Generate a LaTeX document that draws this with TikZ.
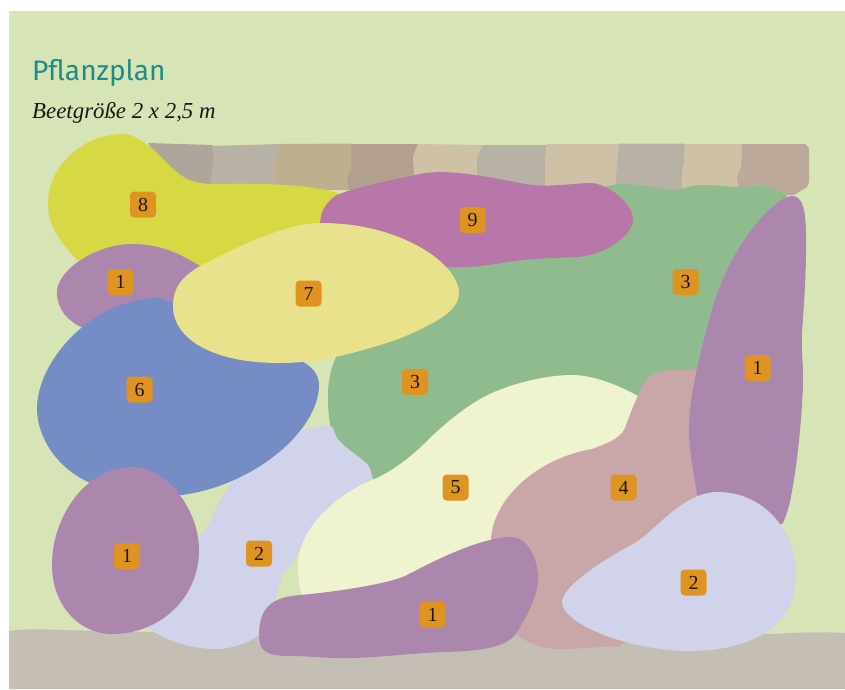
\documentclass[tikz,border=0pt]{standalone}
\usepackage{fontspec}
\setmainfont{Liberation Serif}
\newfontfamily\titlefont{Fira Sans}
\usetikzlibrary{positioning}
\definecolor{gardenbg}{HTML}{D6E4B6}
\definecolor{groundcol}{HTML}{C5BEB4}
\definecolor{stonea}{HTML}{AEA69A}
\definecolor{stoneb}{HTML}{B8B1A6}
\definecolor{stonec}{HTML}{BEB08E}
\definecolor{stoned}{HTML}{B4A08E}
\definecolor{stonee}{HTML}{CFC1A6}
\definecolor{stonef}{HTML}{BCA99A}
\definecolor{bedpurple}{HTML}{AB87AE}
\definecolor{bedlavender}{HTML}{D0D3EA}
\definecolor{bedgreen}{HTML}{90BB8F}
\definecolor{bedpink}{HTML}{C9A6A7}
\definecolor{bedcream}{HTML}{EFF3CF}
\definecolor{bedblue}{HTML}{768CC4}
\definecolor{bedpale}{HTML}{E8E28D}
\definecolor{bedyellow}{HTML}{D6D944}
\definecolor{bedmagenta}{HTML}{B777A8}
\definecolor{badgecol}{HTML}{DF9320}
\definecolor{titlecol}{HTML}{1F8C85}
\tikzset{
      plantbadge/.style={
        rounded corners=3.5pt,
        fill=badgecol,
        minimum width=0.78cm,
        minimum height=0.78cm,
        inner sep=0pt,
        font=\fontsize{17}{20}\selectfont,
        text=black!90
      }
    }

\begin{document}
\begin{tikzpicture}[x=0.03cm,y=-0.03cm]
    \useasboundingbox (0,0) rectangle (845,689);
    \fill[gardenbg] (9,11) rectangle (845,689);
    % wall
    \fill[stonea] (148,143) -- (213,145) -- (214,158) -- (211,185) -- (170,185) -- cycle;
    \fill[stoneb] (212,146) -- (280,144) -- (274,162) -- (275,185) -- (210,185) -- (214,158) -- cycle;
    \fill[stonec] (280,144) -- (352,143.5) -- (351,168) -- (347,177) -- (348,190) -- (275,190) -- (274,162) -- cycle;
    \fill[stoned] (351,144) -- (418,144) -- (413,157) -- (415,175) -- (415,190) -- (348,190) -- (347,177) -- (351,168) -- cycle;
    \fill[stonee] (418,144) -- (483,145) -- (477,157) -- (477,190) -- (415,190) -- (413,157) -- cycle;
    \fill[stoneb] (483,145) -- (547,145) -- (545,160) -- (545,187) -- (477,187) -- (477,157) -- cycle;
    \fill[stonee] (547,144) -- (619,144) -- (616,175) -- (615,187) -- (545,187) -- (545,160) -- cycle;
    \fill[stoneb] (619,143.5) -- (685,143.5) -- (684,163) -- (682,173) -- (682,190) -- (615,190) -- (616,175) -- cycle;
    \fill[stonee] (685,144) -- (742,144) -- (741,167) -- (737,177) -- (738,190) -- (682,190) -- (682,173) -- (684,163) -- cycle;
    \fill[stonef] (742,144) -- (805,144) -- (809,148) -- (809,182) -- (807,187) -- (794,195) -- (760,195) -- (738,190) -- (737,177) -- (741,167) -- cycle;
    % ground
    \fill[groundcol] (9,631) .. controls (20,629) and (40,629) .. (60,630) -- (150,632) -- (775,634) .. controls (800,632) and (825,632) .. (845,633) -- (845,689) -- (9,689) -- cycle;
    % beds
    \fill[bedyellow] (122,134) .. controls +(15,0) and +(-14,-15) .. (167,163) .. controls +(14,14) and +(-25,0) .. (215,184) .. controls +(40,-1) and +(-30,-9) .. (338,193) -- (340,220) -- (250,265) -- (133,270) -- (77,260) .. controls +(-16,-18) and +(0,25) .. (48,203) .. controls +(0,-38) and +(-37,0) .. (122,134) -- cycle;
    \fill[bedgreen] (340,350) .. controls +(-8,12) and +(0,-15) .. (328,395) .. controls +(0,15) and +(-3,-10) .. (332,432) -- (345,470) -- (410,490) -- (700,420) -- (780,240) -- (787,196) .. controls +(-8,-6) and +(12,0) .. (758,186) .. controls +(-8,0) and +(10,1) .. (735,187) .. controls +(-12,-1) and +(14,0) .. (702,185) .. controls +(-8,0) and +(10,-3) .. (680,189.5) .. controls +(-8,2) and +(10,2) .. (652,187) .. controls +(-12,-2) and +(14,0) .. (618,184) -- (590,190) -- (500,225) -- cycle;
    \fill[bedlavender] (280,440) .. controls +(15,-10) and +(-15,0) .. (330,426) .. controls +(4,0) and +(-3,-5) .. (337,438) .. controls +(8,10) and +(-12,-10) .. (365,462) .. controls +(6,5) and +(-1,-8) .. (373,482) -- (330,520) -- (300,548) .. controls +(-2,10) and +(5,-8) .. (283,575) .. controls +(-5,8) and +(2,-10) .. (275,605) .. controls +(-3,12) and +(10,-10) .. (259,635) .. controls +(-8,7) and +(14,0) .. (217,649) .. controls +(-35,0) and +(10,8) .. (147,627) -- (175,590) -- (200,535) .. controls +(4,-4) and +(-3,8) .. (212,518) .. controls +(3,-8) and +(-8,10) .. (233,480) -- cycle;
    \fill[bedcream] (372,480) .. controls +(18,-7) and +(-14,14) .. (425,443) .. controls +(22,-22) and +(-22,10) .. (492,393) .. controls +(22,-10) and +(-25,0) .. (572,375) .. controls +(22,0) and +(-18,-10) .. (638,396) -- (640,440) -- (500,560) -- (400,600) -- (302,597) .. controls +(-3,-12) and +(0,10) .. (298,565) .. controls +(0,-35) and +(-37,15) .. (372,480) -- cycle;
    \fill[bedpink] (700,370) -- (678,370) .. controls +(-22,0) and +(6,-12) .. (642,387) .. controls +(-6,12) and +(5,-14) .. (625,428) .. controls +(-5,12) and +(10,-4) .. (592,449) .. controls +(-52,9) and +(4,-43) .. (491,538) -- (497,590) -- (515,633) .. controls +(5,5) and +(-20,0) .. (558,649) .. controls +(20,0) and +(-20,1) .. (618,646) -- (680,620) -- (730,500) -- (720,400) -- cycle;
    \fill[bedpurple] (792,196) .. controls +(-17,0) and +(18,-65) .. (712,310) .. controls +(-9,32) and +(0,-35) .. (689,428) .. controls +(0,25) and +(-3,-22) .. (697,495) -- (730,550) -- (783,523) .. controls +(6,-15) and +(-3,18) .. (793,485) .. controls +(4,-20) and +(0,30) .. (803,378) .. controls +(0,-20) and +(-1,15) .. (802,333) .. controls +(2,-30) and +(0,25) .. (806,250) .. controls +(0,-25) and +(15,0) .. (792,196) -- cycle;
    \fill[bedlavender] (562,602) .. controls +(0,-17) and +(-22,11) .. (635,543) .. controls +(22,-14) and +(-35,0) .. (718,492) .. controls +(45,0) and +(0,-45) .. (796,575) .. controls +(0,55) and +(55,0) .. (690,651) .. controls +(-60,0) and +(0,22) .. (562,602) -- cycle;
    \fill[bedpurple] (259,635) .. controls +(0,-30) and +(-25,2) .. (300,595) .. controls +(35,-3) and +(-18,8) .. (405,576) .. controls +(18,-9) and +(-35,0) .. (512,537) .. controls +(15,0) and +(0,-20) .. (538,578) .. controls +(0,20) and +(8,-12) .. (515,635) .. controls +(-12,14) and +(30,-1) .. (445,652) .. controls +(-30,1) and +(30,-1) .. (353,658) .. controls +(-20,1) and +(20,0) .. (290,656) .. controls +(-25,0) and +(0,15) .. (259,635) -- cycle;
    \fill[bedpurple] (57,292) .. controls +(0,-22) and +(-36,0) .. (132,244) .. controls +(30,0) and +(-18,-11) .. (200,266) -- (230,300) -- (150,340) -- (83,328) .. controls +(-15,-7) and +(0,18) .. (57,292) -- cycle;
    \fill[bedblue] (37,408) .. controls +(0,-45) and +(-70,0) .. (160,298) -- (250,330) -- (295,358) .. controls +(15,6) and +(0,-12) .. (319,385) .. controls +(0,45) and +(73,-10) .. (182,495) -- (130,492) -- (105,488) .. controls +(-40,-10) and +(0,35) .. (37,408) -- cycle;
    \fill[bedpurple] (132,467) .. controls +(-45,0) and +(0,-50) .. (52,565) .. controls +(0,40) and +(-33,0) .. (112,634) .. controls +(48,0) and +(0,48) .. (199,550) .. controls +(0,-40) and +(35,0) .. (132,467) -- cycle;
    \fill[bedmagenta] (320,225) .. controls +(0,-14) and +(-10,6) .. (337,195) .. controls +(12,-6) and +(-30,6) .. (425,173) .. controls +(25,-3) and +(-45,-9) .. (525,184) .. controls +(25,4) and +(-15,0) .. (590,183) .. controls +(18,0) and +(0,-15) .. (633,219) .. controls +(0,18) and +(25,-2) .. (578,257) .. controls +(-20,1) and +(25,-4) .. (508,262) .. controls +(-25,4) and +(25,1) .. (445,267) -- (380,245) -- cycle;
    \fill[bedpale] (173,307) .. controls +(0,-22) and +(-16,10) .. (200,266) .. controls +(35,-18) and +(-35,0) .. (320,223) .. controls +(40,0) and +(-30,-18) .. (425,250) .. controls +(18,11) and +(0,-15) .. (459,293) .. controls +(0,14) and +(20,-10) .. (425,327) .. controls +(-18,9) and +(25,-7) .. (370,348) .. controls +(-30,9) and +(30,0) .. (280,363) .. controls +(-35,0) and +(20,12) .. (198,345) .. controls +(-15,-9) and +(0,15) .. (173,307) -- cycle;
    % labels
    \node[anchor=base west,text=titlecol,inner sep=0pt,font=\titlefont\fontsize{24}{28}\selectfont] (title) at (32,80) {Pflanzplan};
    \node[anchor=base west,inner sep=0pt,font=\itshape\fontsize{19.5}{23}\selectfont,text=black!90] (size) at (32,118) {Beetgröße 2 x 2,5 m};
    \node[plantbadge] (n8) at (143,204.5) {8};
    \node[plantbadge] (n1a) at (120.5,282) {1};
    \node[plantbadge] (n7) at (308.5,293.5) {7};
    \node[plantbadge] (n9) at (472.5,220) {9};
    \node[plantbadge] (n3a) at (685.5,282) {3};
    \node[plantbadge] (n1b) at (757.5,368) {1};
    \node[plantbadge] (n3b) at (415,382) {3};
    \node[plantbadge] (n6) at (139.5,389.5) {6};
    \node[plantbadge] (n5) at (455.5,487.5) {5};
    \node[plantbadge] (n4) at (623.5,487.5) {4};
    \node[plantbadge] (n1c) at (127,556) {1};
    \node[plantbadge] (n2a) at (259,553.5) {2};
    \node[plantbadge] (n2b) at (693.5,582.5) {2};
    \node[plantbadge] (n1d) at (432.5,614.5) {1};
    \end{tikzpicture}
\end{document}
